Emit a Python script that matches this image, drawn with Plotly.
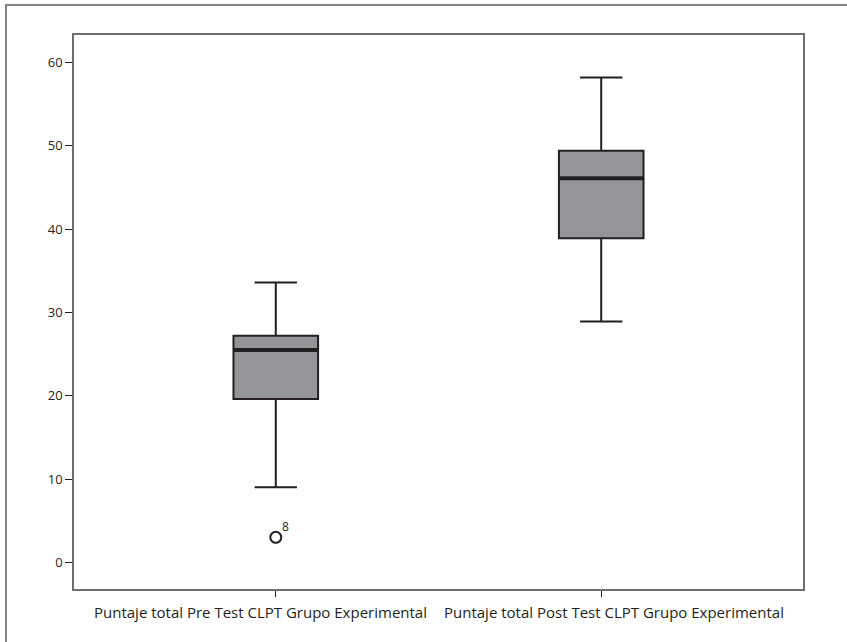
import plotly.graph_objects as go

categories = ["Puntaje total Pre Test CLPT Grupo Experimental",
              "Puntaje total Post Test CLPT Grupo Experimental"]
lower_whisker = [9.0, 28.9]
q1_values = [19.6, 38.9]
median_values = [25.5, 46.1]
q3_values = [27.2, 49.4]
upper_whisker = [33.6, 58.2]
outlier_values = [3.0]
outlier_labels = ["8"]
outlier_group = [0]
y_ticks = [0, 10, 20, 30, 40, 50, 60]

positions = list(range(len(categories)))
label_shift = [-15, 13]   # labels are nudged apart (they are wider than the slot)
box_width = 0.26
fill = "#939598"
ink = "#231f20"

fig = go.Figure()
fig.add_trace(go.Box(
    x=positions, q1=q1_values, median=median_values, q3=q3_values,
    lowerfence=lower_whisker, upperfence=upper_whisker,
    width=box_width, whiskerwidth=0.5, fillcolor=fill,
    line=dict(color=ink, width=2), boxpoints=False, showlegend=False,
    hoverinfo="skip"))

# thicker median lines
for p, m in zip(positions, median_values):
    fig.add_trace(go.Scatter(
        x=[p - box_width / 2, p + box_width / 2], y=[m, m], mode="lines",
        line=dict(color=ink, width=4), showlegend=False, hoverinfo="skip"))

ox = [positions[g] for g in outlier_group]
fig.add_trace(go.Scatter(
    x=ox, y=outlier_values, mode="markers",
    marker=dict(symbol="circle-open", size=11, color=ink, line=dict(width=2)),
    showlegend=False, hoverinfo="skip"))

annotations = [dict(x=x, y=y, xref="x", yref="y", text=t, showarrow=False,
                    xshift=10, yshift=11,
                    font=dict(family="Open Sans", size=12, color=ink))
               for x, y, t in zip(ox, outlier_values, outlier_labels)]
annotations += [dict(x=p, y=0, xref="x", yref="paper", text=c, showarrow=False,
                     xanchor="center", yanchor="top", yshift=-11, xshift=s,
                     font=dict(family="Open Sans", size=15, color=ink))
                for p, c, s in zip(positions, categories, label_shift)]

fig.update_layout(
    width=847, height=642, autosize=False,
    margin=dict(l=74, r=44, t=35, b=53),
    paper_bgcolor="white", plot_bgcolor="white",
    font=dict(family="Open Sans", color=ink),
    annotations=annotations,
    xaxis=dict(range=[-0.62, 1.62], tickvals=positions, showticklabels=False,
               showgrid=False, zeroline=False, showline=True, mirror=True,
               linecolor="#6d6e71", linewidth=1.5, ticks="outside", ticklen=6,
               tickcolor=ink),
    yaxis=dict(range=[-3.2, 63.3], tickvals=y_ticks, showgrid=False,
               zeroline=False, showline=True, mirror=True,
               linecolor="#6d6e71", linewidth=1.5, ticks="outside", ticklen=7,
               tickcolor=ink, tickfont=dict(size=13, color=ink)),
    shapes=[dict(type="rect", xref="paper", yref="paper",
                 x0=-0.0933, x1=1.2, y0=-0.3, y1=1.054,
                 line=dict(color="#808285", width=2), layer="below")],
)

fig.write_html("out.html", config={"displayModeBar": False},
               post_script="document.body.style.margin='0';")
